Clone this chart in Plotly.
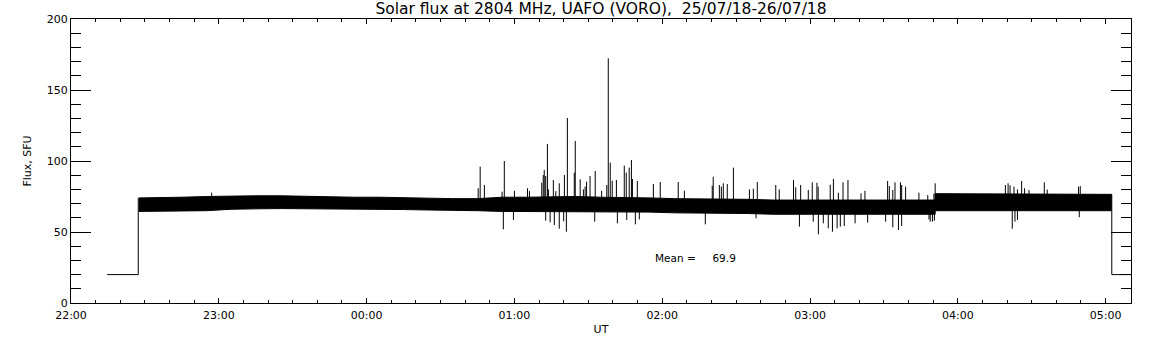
import pandas as pd
import plotly.graph_objects as go

BASE = pd.Timestamp("2018-07-25 22:00:00")

# ---- data (time in minutes after 22:00 UT, flux in SFU) ----
band_t  = [27.5, 35, 45, 55, 65, 75, 85, 95, 105, 115, 125, 135, 145, 155, 165,
           175, 185, 195, 205, 215, 225, 235, 245, 255, 265, 275, 285, 295, 305,
           315, 325, 335, 345, 350.8, 350.8, 360, 370, 380, 390, 400, 410, 420, 422.5]
band_hi = [74.0, 74.0, 74.5, 75.0, 75.5, 75.5, 75.5, 75.0, 74.5, 74.5, 74.5, 74.0, 74.0, 73.5, 73.5,
           74.5, 74.5, 75.0, 75.0, 74.5, 74.5, 74.0, 73.5, 73.5, 73.0, 73.0, 72.5, 72.5, 72.5,
           72.5, 72.5, 72.5, 72.5, 72.5, 77.0, 77.0, 76.5, 76.5, 76.5, 76.5, 76.5, 76.5, 76.5]
band_lo = [64.5, 64.5, 65.0, 65.0, 66.0, 66.3, 66.5, 66.3, 66.0, 66.0, 66.0, 65.8, 65.5, 65.0, 65.0,
           64.5, 64.5, 64.0, 64.0, 64.0, 64.0, 64.0, 63.5, 63.5, 63.0, 63.0, 62.5, 62.0, 62.0,
           62.0, 62.0, 62.5, 62.5, 62.5, 65.0, 65.0, 65.0, 65.0, 65.0, 65.0, 65.0, 65.0, 65.0]

lead_t = [14.7, 27.3, 27.3]
lead_v = [20, 20, 74]
tail_t = [422.5, 422.5, 440]
tail_v = [65, 20, 20]

up_t = [57.1, 165.3, 166.1, 167.8, 175.0, 175.9, 180.0, 185.3, 186.1,
        191.1, 191.7, 192.1, 192.7, 193.4, 193.8, 195.8, 196.8, 198.2, 200.3, 201.5,
        204.3, 204.7, 206.7, 208.0, 208.7, 209.3, 210.7, 212.8, 215.4, 217.5,
        218.1, 218.9, 219.7, 221.4, 224.6, 225.4, 226.6, 227.5, 227.9, 229.9,
        236.4, 239.2, 246.5, 249.0, 260.3, 260.7, 263.2, 264.0, 264.8, 266.4,
        268.9, 275.4, 277.0, 278.6, 286.1, 287.5, 293.3, 294.2, 296.2, 299.3,
        300.9, 302.8, 303.3, 308.2, 309.5, 311.5, 313.4, 315.4, 320.7, 322.3,
        331.5, 332.2, 333.6, 334.5, 336.7, 337.2, 338.8, 344.2, 347.8, 350.3,
        350.8, 379.3, 380.4, 381.2, 382.8, 384.2, 385.9, 387.1, 388.9, 395.1,
        396.3, 409.0, 409.7]
up_v = [77.7, 80.8, 96.0, 83.1, 78.4, 100.0, 79.0, 80.8, 78.8,
        84.7, 90.1, 93.7, 89.4, 112.0, 80.0, 86.6, 78.8, 84.3, 90.1, 130.3,
        91.8, 114.1, 87.1, 80.0, 82.0, 85.4, 89.4, 93.0, 79.0, 83.1,
        172.3, 98.8, 86.1, 86.6, 96.7, 91.8, 95.3, 100.7, 87.3, 85.9,
        83.8, 85.2, 85.2, 79.1, 82.6, 88.9, 83.1, 82.0, 84.3, 83.8,
        95.3, 80.0, 80.5, 85.2, 83.1, 80.0, 86.6, 81.5, 83.1, 79.6,
        85.0, 84.7, 82.0, 83.3, 87.3, 77.7, 85.0, 86.6, 77.2, 79.0,
        85.9, 82.4, 79.6, 85.0, 85.0, 83.1, 81.9, 77.7, 76.0, 77.0,
        84.3, 83.1, 84.3, 82.9, 81.9, 80.0, 85.9, 80.8, 79.6, 85.0,
        79.9, 81.9, 82.4]

down_t = [175.5, 179.6, 192.7, 194.5, 196.2, 198.2, 200.0, 201.1, 212.6,
          221.8, 225.6, 229.1, 230.7, 257.5, 278.1, 295.7, 301.3, 303.4, 305.4,
          307.4, 309.1, 311.0, 312.3, 313.9, 318.3, 323.4, 330.7, 333.6, 335.9,
          337.2, 348.3, 348.8, 349.7, 350.5, 382.1, 383.2, 384.2, 409.3]
down_v = [51.9, 58.5, 58.0, 56.8, 54.9, 52.3, 57.5, 50.2, 57.3,
          56.1, 58.5, 55.4, 58.9, 55.4, 59.6, 53.8, 57.3, 48.4, 56.1,
          52.6, 50.2, 52.6, 53.8, 54.2, 56.1, 56.6, 57.3, 53.3, 51.4,
          54.2, 58.9, 57.3, 57.3, 58.0, 52.3, 57.3, 58.5, 60.4]

mean_value = 69.9
title_text = "Solar flux at 2804 MHz, UAFO (VORO),\u00a0\u00a025/07/18-26/07/18"
x_range_min = [0, 430.3]
y_range = [0, 200]


def tm(mins):
    return [BASE + pd.Timedelta(minutes=m) if m is not None else None for m in mins]


def seg(ts, vs, base):
    xs, ys = [], []
    for t, v in zip(ts, vs):
        xs += [t, t, None]
        ys += [base, v, None]
    return xs, ys


fig = go.Figure()

# noise band
fig.add_trace(go.Scatter(
    x=tm(band_t + band_t[::-1]), y=band_hi + band_lo[::-1],
    fill="toself", fillcolor="black", mode="lines",
    line=dict(color="black", width=1), hoverinfo="skip", showlegend=False))

# spikes
ux, uy = seg(up_t, up_v, 70)
dx, dy = seg(down_t, down_v, 70)
fig.add_trace(go.Scatter(x=tm(ux + dx), y=uy + dy, mode="lines",
                         line=dict(color="black", width=1), showlegend=False,
                         connectgaps=False))

# lead / tail of the record
fig.add_trace(go.Scatter(x=tm(lead_t), y=lead_v, mode="lines",
                         line=dict(color="black", width=1), showlegend=False))
fig.add_trace(go.Scatter(x=tm(tail_t), y=tail_v, mode="lines",
                         line=dict(color="black", width=1), showlegend=False))

font_main = "DejaVu Sans"

fig.add_annotation(x=tm([236.3])[0], y=31.7, xref="x", yref="y",
                   text="Mean =\u00a0\u00a0\u00a0\u00a0\u00a0" + f"{mean_value:.1f}",
                   showarrow=False, xanchor="left", yanchor="middle",
                   font=dict(family=font_main, size=10.5, color="black"))

fig.update_layout(
    width=1152, height=345,
    margin=dict(l=71, r=21, t=19, b=42),
    paper_bgcolor="white", plot_bgcolor="white",
    font=dict(family=font_main, size=11, color="black"),
    title=dict(text=title_text, x=0.5, xref="paper", xanchor="center",
               y=1 - 9 / 345, yref="container", yanchor="middle",
               font=dict(family=font_main, size=15.5, color="black")),
    showlegend=False,
    hovermode=False,
)

fig.update_xaxes(
    type="date", range=tm(x_range_min),
    tickformat="%H:%M", dtick=3600000, tick0=BASE,
    ticks="inside", ticklen=5, tickcolor="black", tickwidth=1,
    minor=dict(dtick=600000, tick0=BASE, ticks="inside", ticklen=3,
               tickcolor="black", tickwidth=1, showgrid=False),
    showline=True, linecolor="black", linewidth=1, mirror="allticks",
    showgrid=False, zeroline=False, ticklabelstandoff=2,
    title=dict(text="UT", standoff=4, font=dict(family=font_main, size=11)),
)
fig.update_yaxes(
    range=y_range, dtick=50, tick0=0,
    ticks="inside", ticklen=20, tickcolor="black", tickwidth=1,
    minor=dict(dtick=10, ticks="inside", ticklen=10,
               tickcolor="black", tickwidth=1, showgrid=False),
    showline=True, linecolor="black", linewidth=1, mirror="allticks",
    showgrid=False, zeroline=False,
    title=dict(text="Flux, SFU", standoff=12, font=dict(family=font_main, size=11)),
)

fig.write_html("out.html", config={"displayModeBar": False},
               post_script="document.body.style.margin='0px';")
